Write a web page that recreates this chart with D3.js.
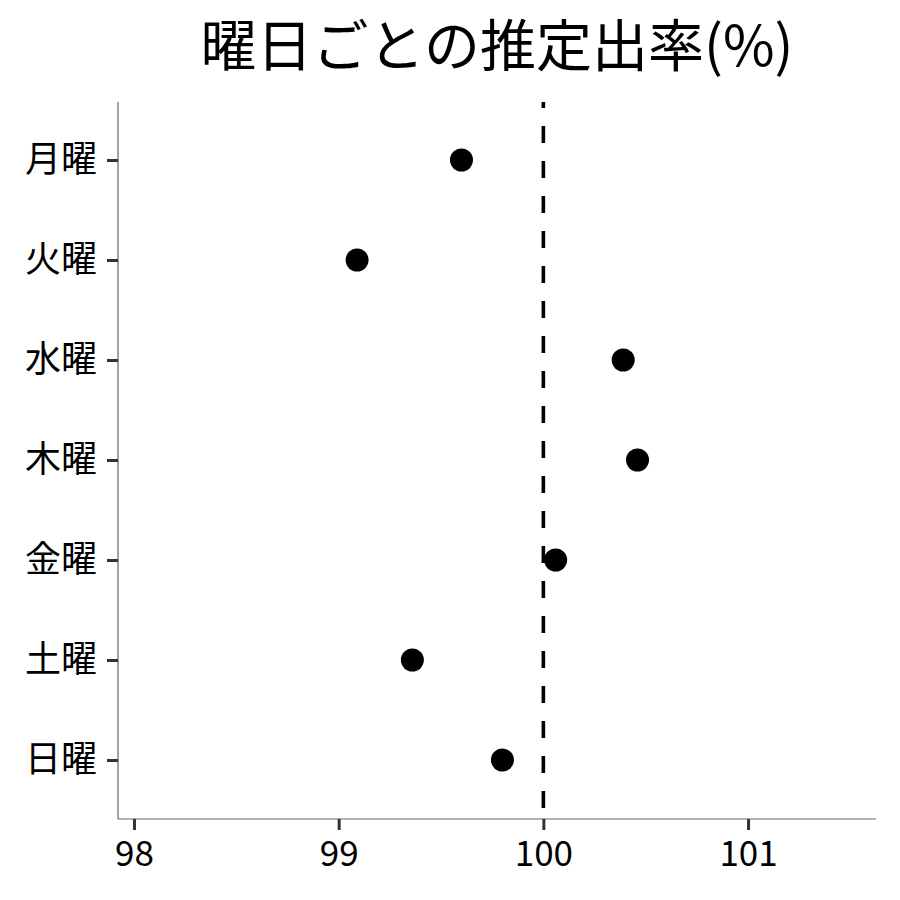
<!DOCTYPE html>
<html>
<head>
<meta charset="utf-8">
<script src="https://cdn.jsdelivr.net/npm/d3@7"></script>
<style>
  body { margin: 0; background: #fff; }
  svg text { font-family: "Noto Sans CJK JP", "Noto Sans", sans-serif; fill: #000; }
</style>
</head>
<body>
<div id="chart"></div>
<script>
// values
var days = ["月曜", "火曜", "水曜", "木曜", "金曜", "土曜", "日曜"];
var rates = [99.60, 99.09, 100.39, 100.46, 100.06, 99.36, 99.80];
var xTicks = [98, 99, 100, 101];
var refLine = 100;
var title = "曜日ごとの推定出率(%)";

const width = 900, height = 900;
const margin = {top: 102, right: 24, bottom: 81, left: 118};

var svg = d3.select("#chart").append("svg")
  .attr("width", width)
  .attr("height", height);

const x = d3.scaleLinear()
  .domain([97.922, 101.625])
  .range([margin.left, width - margin.right]);

const y = d3.scalePoint()
  .domain(days)
  .range([160, 760]);

// title
svg.append("text")
  .attr("x", (margin.left + width - margin.right) / 2)
  .attr("y", 66)
  .attr("text-anchor", "middle")
  .style("font-size", "56px")
  .text(title);

// x axis
var xAxis = svg.append("g")
  .attr("transform", "translate(0," + (height - margin.bottom) + ")")
  .call(d3.axisBottom(x).tickValues(xTicks).tickSize(11).tickPadding(11).tickFormat(d3.format("d")));
xAxis.select(".domain").attr("stroke", "#666").attr("stroke-width", 1.2)
  .attr("d", "M" + margin.left + ",0H" + (width - margin.right));
xAxis.selectAll(".tick line").attr("stroke", "#333").attr("stroke-width", 3);
xAxis.selectAll(".tick text").style("font-size", "35px").attr("fill", "#000");

// y axis
var yAxis = svg.append("g")
  .attr("transform", "translate(" + margin.left + ",0)")
  .call(d3.axisLeft(y).tickSize(11).tickPadding(10));
yAxis.select(".domain").attr("stroke", "#666").attr("stroke-width", 1.2)
  .attr("d", "M0," + margin.top + "V" + (height - margin.bottom));
yAxis.selectAll(".tick line").attr("stroke", "#333").attr("stroke-width", 3);
yAxis.selectAll(".tick text").style("font-size", "36px").attr("fill", "#000");

// reference line
svg.append("line")
  .attr("x1", x(refLine)).attr("x2", x(refLine))
  .attr("y1", margin.top).attr("y2", height - margin.bottom)
  .attr("stroke", "#000")
  .attr("stroke-width", 3.6)
  .attr("stroke-dasharray", "17,18")
  .attr("stroke-dashoffset", 11);

// points
svg.append("g")
  .selectAll("circle")
  .data(days)
  .enter().append("circle")
    .attr("cx", (d, i) => x(rates[i]))
    .attr("cy", d => y(d))
    .attr("r", 11.5)
    .attr("fill", "#000");
</script>
</body>
</html>
